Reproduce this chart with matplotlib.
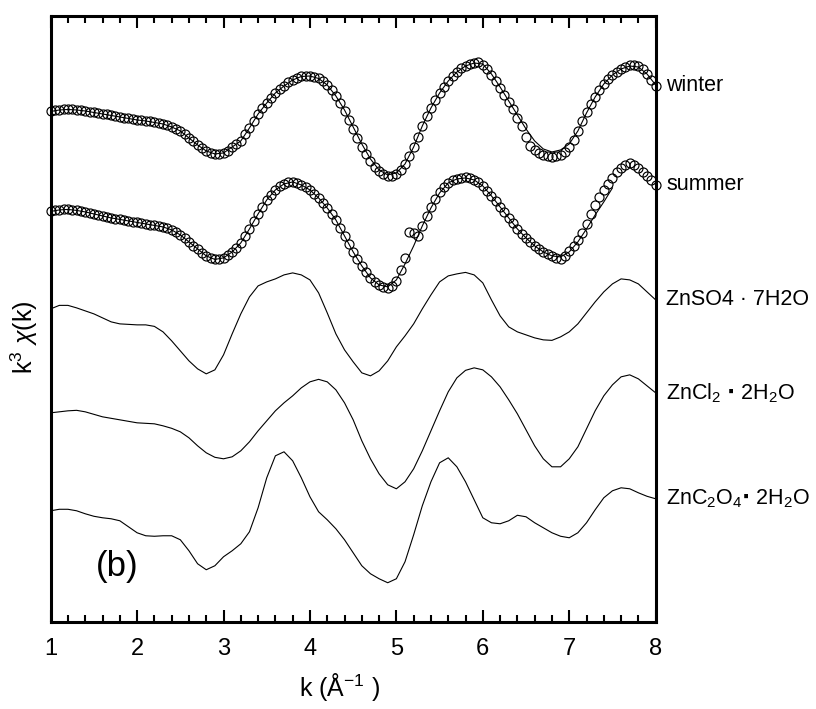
import numpy as np
import matplotlib
matplotlib.use("Agg")
import matplotlib.pyplot as plt
from matplotlib.ticker import MultipleLocator

plt.rcParams['font.family'] = ['Liberation Sans', 'DejaVu Sans']
plt.rcParams['mathtext.fontset'] = 'custom'
plt.rcParams['mathtext.rm'] = 'Liberation Sans'
plt.rcParams['mathtext.it'] = 'Liberation Sans:italic'

# k grids (A^-1): measured points every 0.05, fits / references every 0.1
k_data = np.round(np.arange(1.0, 8.0001, 0.05), 2)
k_ref = np.round(np.arange(1.0, 8.0001, 0.1), 1)
k_fit_summer = np.round(np.arange(1.0, 7.5001, 0.1), 1)

# k^3 chi(k), arbitrary units, each curve shifted by its own offset
winter_data = [
    0.05, 0.15, 0.2, 0.25, 0.25, 0.25, 0.2, 0.15, 0.1, 0.0,
    -0.05, -0.1, -0.2, -0.25, -0.35, -0.4, -0.5, -0.6, -0.65, -0.7,
    -0.8, -0.85, -0.9, -0.95, -1.05, -1.1, -1.2, -1.35, -1.5, -1.7,
    -1.9, -2.2, -2.6, -2.95, -3.3, -3.6, -3.9, -4.1, -4.2, -4.2,
    -4.1, -3.9, -3.5, -3.2, -2.9, -2.2, -1.6, -0.9, -0.2, 0.4,
    0.9, 1.4, 1.9, 2.3, 2.6, 3.0, 3.2, 3.4, 3.55, 3.6,
    3.6, 3.5, 3.35, 3.1, 2.7, 2.2, 1.6, 0.9, 0.1, -0.8,
    -1.7, -2.6, -3.5, -4.2, -4.9, -5.5, -5.9, -6.2, -6.4, -6.4,
    -6.2, -5.8, -5.2, -4.4, -3.5, -2.5, -1.4, -0.4, 0.4, 1.2,
    1.9, 2.5, 3.1, 3.6, 4.0, 4.4, 4.6, 4.8, 4.9, 5.0,
    4.7, 4.3, 3.7, 3.1, 2.4, 1.7, 1.0, 0.3, -0.6, -1.4,
    -2.5, -3.4, -3.8, -4.1, -4.3, -4.4, -4.5, -4.4, -4.3, -4.0,
    -3.5, -2.8, -1.9, -0.9, 0.0, 0.8, 1.5, 2.2, 2.8, 3.3,
    3.7, 4.0, 4.3, 4.5, 4.65, 4.7, 4.6, 4.3, 3.8, 3.2,
    2.6,
]
winter_fit = [
    0.05, 0.2, 0.25, 0.2, 0.1, -0.05, -0.2, -0.35, -0.5, -0.65,
    -0.8, -0.9, -1.05, -1.2, -1.5, -1.9, -2.6, -3.3, -3.9, -4.2,
    -4.1, -3.5, -2.9, -1.6, -0.2, 0.9, 1.9, 2.6, 3.2, 3.55,
    3.6, 3.35, 2.7, 1.6, 0.2, -1.5, -3.2, -4.7, -5.8, -6.3,
    -6.1, -5.2, -3.5, -1.4, 0.4, 1.9, 3.1, 4.0, 4.6, 4.9,
    4.8, 3.8, 2.5, 1.1, -0.3, -1.7, -2.9, -3.7, -4.0, -3.8,
    -3.2, -1.9, -0.1, 1.5, 2.8, 3.7, 4.3, 4.6, 4.5, 3.8,
    2.7,
]
summer_data = [
    0.05, 0.15, 0.2, 0.25, 0.25, 0.2, 0.15, 0.1, 0.0, -0.1,
    -0.2, -0.3, -0.4, -0.5, -0.6, -0.7, -0.75, -0.8, -0.9, -1.0,
    -1.05, -1.1, -1.2, -1.3, -1.35, -1.4, -1.5, -1.65, -1.8, -2.0,
    -2.3, -2.6, -3.0, -3.4, -3.7, -4.1, -4.4, -4.6, -4.75, -4.75,
    -4.6, -4.35, -4.0, -3.6, -3.1, -2.4, -1.7, -0.9, -0.2, 0.5,
    1.2, 1.7, 2.2, 2.6, 2.8, 3.0, 3.0, 2.9, 2.7, 2.5,
    2.2, 1.8, 1.4, 0.9, 0.4, -0.2, -0.8, -1.6, -2.4, -3.2,
    -4.0, -4.7, -5.4, -6.0, -6.6, -7.0, -7.3, -7.5, -7.6, -7.4,
    -6.9, -5.8, -4.6, -2.0, -2.1, -2.4, -1.4, -0.4, 0.5, 1.3,
    2.0, 2.5, 2.9, 3.2, 3.3, 3.4, 3.45, 3.4, 3.2, 3.0,
    2.6, 2.1, 1.6, 1.1, 0.5, 0.0, -0.6, -1.1, -1.7, -2.2,
    -2.6, -3.0, -3.4, -3.7, -4.0, -4.2, -4.4, -4.6, -4.7, -4.4,
    -3.9, -3.4, -2.8, -2.1, -1.2, -0.2, 0.7, 1.5, 2.2, 2.8,
    3.4, 4.0, 4.4, 4.7, 4.9, 4.7, 4.4, 4.0, 3.6, 3.2,
    2.7,
]
summer_fit = [
    0.05, 0.2, 0.25, 0.15, 0.0, -0.2, -0.4, -0.6, -0.75, -0.9,
    -1.05, -1.2, -1.35, -1.5, -1.8, -2.3, -3.0, -3.7, -4.4, -4.75,
    -4.6, -4.0, -3.1, -1.7, -0.2, 1.2, 2.2, 2.8, 3.0, 2.7,
    2.2, 1.4, 0.4, -0.8, -2.4, -4.0, -5.4, -6.6, -7.3, -7.5,
    -6.8, -5.2, -3.4, -1.4, 0.4, 1.9, 2.9, 3.3, 3.4, 3.2,
    2.6, 1.6, 0.5, -0.6, -1.7, -2.6, -3.4, -4.0, -4.4, -4.5,
    -4.0, -3.0, -1.7, -0.3, 1.0, 2.4,
]
znso4 = [
    0.0, 0.35, 0.35, 0.1, -0.2, -0.5, -0.9, -1.3, -1.5, -1.55,
    -1.6, -1.6, -1.75, -2.3, -3.2, -4.2, -5.2, -6.0, -6.5, -6.1,
    -4.6, -2.5, -0.5, 1.2, 2.3, 2.7, 3.0, 3.4, 3.6, 3.4,
    2.9, 1.6, -0.4, -2.5, -4.1, -5.3, -6.4, -6.7, -6.2, -5.2,
    -3.8, -2.7, -1.5, 0.0, 1.4, 2.7, 3.3, 3.5, 3.65, 3.4,
    2.6, 0.9, -0.7, -1.8, -2.3, -2.6, -2.9, -3.1, -3.15, -2.8,
    -2.3, -1.5, -0.4, 0.7, 1.7, 2.5, 3.0, 2.9, 2.5, 1.7,
    0.9,
]
zncl2 = [
    0.0, 0.1, 0.2, 0.25, 0.1, -0.15, -0.4, -0.55, -0.7, -0.85,
    -1.0, -1.05, -1.1, -1.3, -1.55, -1.9, -2.5, -3.3, -4.0, -4.45,
    -4.6, -4.4, -3.8, -2.9, -1.8, -0.8, 0.2, 1.0, 1.7, 2.5,
    3.1, 3.35, 3.1, 2.3, 1.0, -0.7, -2.8, -4.6, -6.1, -7.2,
    -7.6, -6.9, -5.6, -3.8, -1.8, 0.2, 2.1, 3.5, 4.25, 4.5,
    4.3, 3.6, 2.6, 1.3, -0.1, -1.7, -3.3, -4.6, -5.4, -5.4,
    -4.6, -3.4, -1.6, 0.2, 1.7, 2.8, 3.6, 3.8, 3.4, 2.7,
    2.0,
]
znc2o4 = [
    0.0, 0.15, 0.15, 0.0, -0.3, -0.55, -0.7, -0.8, -1.0, -1.6,
    -2.2, -2.5, -2.55, -2.5, -2.5, -2.9, -4.0, -5.3, -5.9, -5.5,
    -4.6, -4.0, -3.3, -2.1, 0.3, 3.3, 5.5, 5.9, 5.0, 3.3,
    1.4, -0.1, -0.9, -1.8, -2.9, -4.2, -5.5, -6.3, -6.8, -7.2,
    -6.8, -5.1, -2.4, 0.5, 2.9, 4.8, 5.3, 4.4, 2.9, 1.1,
    -0.7, -1.2, -1.3, -1.0, -0.45, -0.6, -1.2, -1.7, -2.2, -2.55,
    -2.7, -2.2, -1.2, 0.1, 1.3, 2.0, 2.3, 2.2, 1.8, 1.45,
    1.2,
]

offsets = {'winter': 51.0, 'summer': 41.0, 'znso4': 31.3, 'zncl2': 20.9, 'znc2o4': 11.1}
labels = {
    'winter': 'winter',
    'summer': 'summer',
    'znso4': 'ZnSO4 \u00b7 7H2O',
    'zncl2': r'ZnCl$_2$ $\mathbf{\cdot}$ 2H$_2$O',
    'znc2o4': r'ZnC$_2$O$_4$$\mathbf{\cdot}$ 2H$_2$O',
}

fig = plt.figure(figsize=(8.16, 7.09), dpi=100)
ax = fig.add_axes([0.0621, 0.1231, 0.7414, 0.8543])

# measured spectra (open circles) with fits
for name, data, kf, fit in [('winter', winter_data, k_ref, winter_fit),
                            ('summer', summer_data, k_fit_summer, summer_fit)]:
    off = offsets[name]
    ax.plot(kf, np.array(fit) + off, color='black', lw=0.8, zorder=2)
    ax.plot(k_data, np.array(data) + off, linestyle='none', marker='o',
            markersize=6.5, markerfacecolor='none', markeredgecolor='black',
            markeredgewidth=0.85, clip_on=False, zorder=3)

# reference compounds
for name, vals in [('znso4', znso4), ('zncl2', zncl2), ('znc2o4', znc2o4)]:
    ax.plot(k_ref, np.array(vals) + offsets[name], color='black', lw=0.8)

ends = {'winter': winter_data[-1], 'summer': summer_data[-1],
        'znso4': znso4[-1], 'zncl2': zncl2[-1], 'znc2o4': znc2o4[-1]}
for name in offsets:
    ax.text(8.12, ends[name] + offsets[name], labels[name], fontsize=15.5,
            ha='left', va='center', clip_on=False)

ax.text(1.52, 5.5, '(b)', fontsize=25, ha='left', va='center')

ax.set_xlim(1, 8)
ax.set_ylim(0, 60.6)
ax.xaxis.set_major_locator(MultipleLocator(1))
ax.xaxis.set_minor_locator(MultipleLocator(0.2))
ax.set_yticks([])
ax.tick_params(axis='x', which='both', direction='in', top=True, bottom=True,
               labelsize=17, pad=12)
ax.tick_params(axis='x', which='major', length=8.5, width=1.5)
ax.tick_params(axis='x', which='minor', length=5, width=1.5)
for sp in ax.spines.values():
    sp.set_linewidth(2.2)

ax.set_xlabel(r'k (Å$^{-1}$ )', fontsize=18)
ax.xaxis.set_label_coords(0.478, -0.082)
ax.set_ylabel(r'k$^3$ $\chi$(k)', fontsize=18)
ax.yaxis.set_label_coords(-0.017, 0.47)

fig.savefig('out.png', dpi=100)
